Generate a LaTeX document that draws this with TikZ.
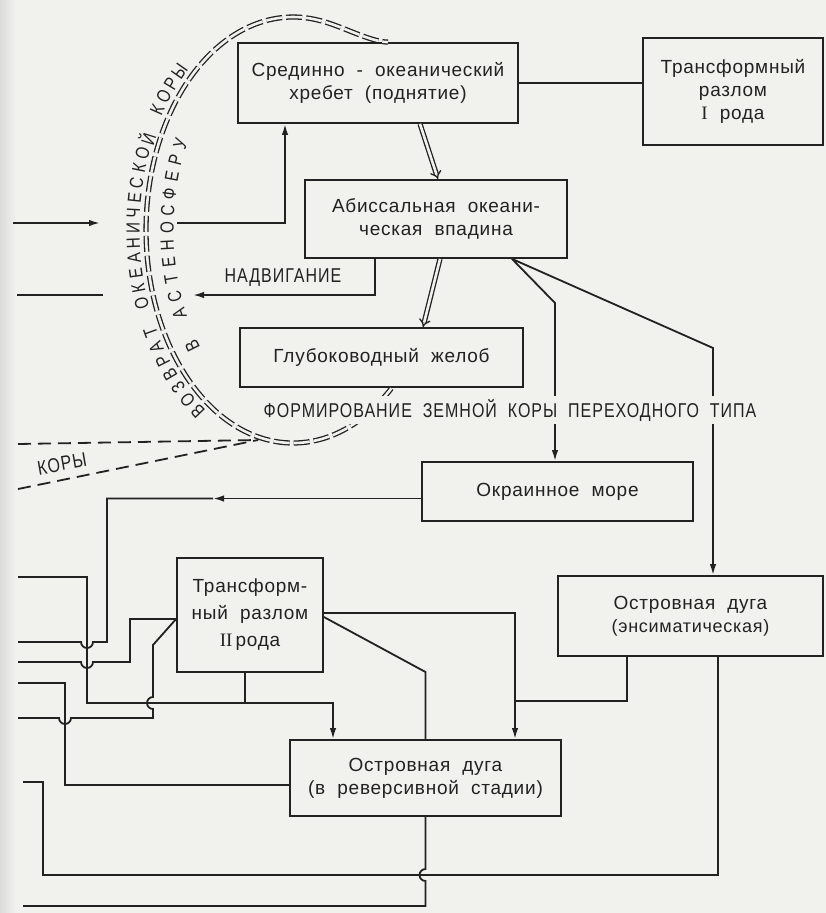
\documentclass[tikz,border=0pt]{standalone}
\usepackage{fontspec}
\setmainfont{Liberation Sans}
\newfontfamily\boxfont[LetterSpace=4,WordSpace=2]{Liberation Sans}
\newfontfamily\capfont[FakeStretch=0.8,LetterSpace=5,WordSpace=2]{Liberation Sans}
\newfontfamily\arcfont[FakeStretch=0.8]{Liberation Sans}
\newfontfamily\romfont{Liberation Serif}
\usetikzlibrary{arrows.meta,calc}
\definecolor{bg}{RGB}{241,241,238}
\definecolor{ink}{RGB}{34,34,34}
\tikzset{
  box/.style={draw=ink, line width=1.8pt, inner sep=0pt, align=center, text=ink,
    font=\boxfont\fontsize{19}{23}\selectfont},
  ln/.style={draw=ink, line width=1.8pt},
  arr/.style={ln, -{Latex[length=11pt,width=6.5pt]}},
  dbl/.style={draw=ink, double=bg, double distance=2.6pt, line width=1.3pt, -{Implies}},
  arcline/.style={draw=ink, double=bg, double distance=2.6pt, line width=1.3pt, dash pattern=on 16pt off 4pt},
  dsh/.style={draw=ink, line width=1.8pt, dash pattern=on 13pt off 7pt},
  capl/.style={text=ink, inner sep=1pt, font=\capfont\fontsize{20}{22}\selectfont},
  arcl/.style={text=ink, inner sep=0pt, font=\arcfont\fontsize{19}{19}\selectfont},
}
\begin{document}
\begin{tikzpicture}[x=1pt,y=-1pt]
\useasboundingbox (0,0) rectangle (826,913);
\fill[bg] (0,0) rectangle (826,913);
\shade[left color=black!14, right color=bg] (0,0) rectangle (16,913);

% boxes
\node[box, minimum width=280pt, minimum height=80pt] (b1) at (378,83) {Срединно - океанический\\хребет (поднятие)};
\node[box, minimum width=180pt, minimum height=107pt] (b2) at (733,91.5) {Трансформный\\разлом\\{\romfont I} рода};
\node[box, minimum width=262pt, minimum height=78pt] (b3) at (436,219) {Абиссальная океани-\\ческая впадина};
\node[box, minimum width=283pt, minimum height=59pt] (b4) at (381.5,357.5) {Глубоководный желоб};
\node[box, minimum width=271pt, minimum height=59pt] (b5) at (557.5,491.5) {Окраинное море};
\node[box, minimum width=265pt, minimum height=80pt] (b6) at (690.5,616) {Островная дуга\\{\fontsize{18}{23}\selectfont(энсиматическая)}};
\node[box, minimum width=146pt, minimum height=114pt, font=\boxfont\fontsize{19}{27}\selectfont] (b7) at (250,615) {Трансформ-\\ный разлом\\{\romfont II}\,рода};
\node[box, minimum width=271pt, minimum height=76pt] (b8) at (425.5,778) {Островная дуга\\(в реверсивной стадии)};

% free ends
\coordinate (inL) at (13,223);
\coordinate (inLe) at (100,223);
\coordinate (inR) at (177,223);
\coordinate (nadvE) at (193,295);
\coordinate (nadvL) at (17,295);
\coordinate (nadvLe) at (103,295);
\coordinate (seaA) at (213,498.5);
\coordinate (lA) at (18,577);
\coordinate (lB) at (18,642);
\coordinate (lC) at (18,662);
\coordinate (lE) at (18,683);
\coordinate (lD) at (18,718);
\coordinate (lH) at (23,782);
\coordinate (lI) at (23,906);
\coordinate (kV) at (258,440);
\coordinate (kU) at (18,444);
\coordinate (kL) at (18,489);
\coordinate (arcS) at (391.4,388.3);

% arc: return of oceanic crust (ellipse centre (293,230), radii 147 x 213)
\draw[arcline] (arcS) arc[start angle=-312, end angle=-80, x radius=147, y radius=213]
  .. controls (340,25) and (370,42) .. ([xshift=10pt]b1.north);

% outer text
\xdef\tcur{233.4}
\foreach \c [count=\i] in {В,О,З,В,Р,А,Т,{},О,К,Е,А,Н,И,Ч,Е,С,К,О,Й,{},К,О,Р,Ы} {
  \pgfmathsetmacro\px{293+160*cos(\tcur)}
  \pgfmathsetmacro\py{230-226*sin(\tcur)}
  \pgfmathsetmacro\rr{atan2(1.60*sin(\tcur),2.26*cos(\tcur))-90}
  \node[arcl, rotate=\rr] (o\i) at (\px,\py) {\c};
  \pgfmathsetmacro\tn{\tcur-15.2/(1.74533*veclen(1.60*sin(\tcur),2.26*cos(\tcur)))}
  \xdef\tcur{\tn}
}
% inner text
\xdef\tcur{217}
\foreach \c [count=\i] in {В,{},А,С,Т,Е,Н,О,С,Ф,Е,Р,У} {
  \pgfmathsetmacro\px{293+126*cos(\tcur)}
  \pgfmathsetmacro\py{230-192*sin(\tcur)}
  \pgfmathsetmacro\rr{atan2(1.26*sin(\tcur),1.92*cos(\tcur))-90}
  \node[arcl, rotate=\rr] (n\i) at (\px,\py) {\c};
  \pgfmathsetmacro\tn{\tcur-17.2/(1.74533*veclen(1.26*sin(\tcur),1.92*cos(\tcur)))}
  \xdef\tcur{\tn}
}

% dashed crust lines
\draw[dsh] (kU) -- (kV);
\draw[dsh] (kL) -- (kV);
\node[capl, rotate=10] (kory) at (62,464) {КОРЫ};

% connectors top
\draw[ln] (b1.east) -- (b1.east -| b2.west);
\draw[dbl] ([xshift=42pt]b1.south) -- ([xshift=2pt]b3.north);
\draw[dbl] ([xshift=4pt]b3.south) -- ([xshift=41.5pt]b4.north);
\draw[arr] (inL) -- (inLe);
\draw[arr] (inR) -| ([xshift=-93pt]b1.south);
\draw[arr] ([xshift=-61pt]b3.south) |- (nadvE);
\draw[ln] (nadvL) -- (nadvLe);
\node[capl] (nadv) at (283,278) {НАДВИГАНИЕ};
\draw[arr] ([xshift=76pt]b3.south) -- (555,303) -- ([xshift=-2.5pt]b5.north);
\draw[arr] ([xshift=76pt]b3.south) -- (713,348) -- ([xshift=22.5pt]b6.north);
\node[capl, fill=bg, inner sep=3pt] (form) at (510,410) {ФОРМИРОВАНИЕ ЗЕМНОЙ КОРЫ ПЕРЕХОДНОГО ТИПА};

% left network
\draw[arr] ([yshift=-7pt]b5.west) -- (seaA);
\draw[ln] (seaA) -- (107,498.5) -- (107,642) -- (93,642) arc[start angle=0,end angle=180,radius=6] -- (lB);
\draw[arr] (lA) -| (87,703) -| ([xshift=-92.5pt]b8.north);
\draw[ln] ([xshift=-5pt]b7.south) -- ++(0,31);
\draw[ln] ([yshift=-4pt]b7.west) -- (130,619) -- (130,662) -- (93,662) arc[start angle=0,end angle=180,radius=6] -- (lC);
\draw[ln] ([yshift=-4pt]b7.west) -- (153,645) -- (153,697) arc[start angle=-90,end angle=-270,radius=6] -- (153,718) -- (71,718) arc[start angle=0,end angle=180,radius=6] -- (lD);
\draw[ln] ([yshift=-7pt]b8.west) -| (65,683) -- (lE);
\draw[arr] ([yshift=2pt]b7.east) -| ([xshift=89.5pt]b8.north);
\draw[ln] ([xshift=-63.5pt]b6.south) |- (515,701);
\draw[ln] ([yshift=-2pt]b7.east) -- (425.5,672) -- (b8.north);
\draw[ln] ([xshift=27.5pt]b6.south) |- (43,875) |- (lH);
\draw[ln] (b8.south) -- (425.5,869) arc[start angle=-90,end angle=-270,radius=6] -- (425.5,906) -- (lI);
\end{tikzpicture}
\end{document}
